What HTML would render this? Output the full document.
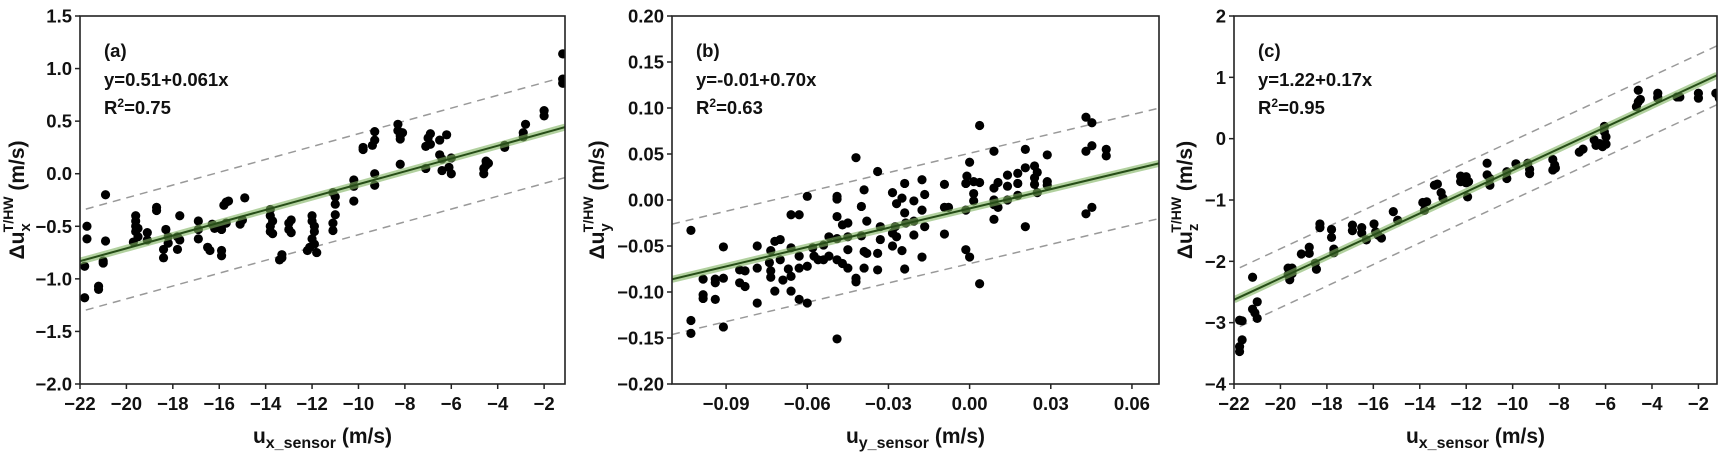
<!DOCTYPE html>
<html><head><meta charset="utf-8">
<style>
html,body{margin:0;padding:0;background:#fff;overflow:hidden;}
svg{display:block;font-family:"Liberation Sans",Arial,sans-serif;font-weight:bold;}
</style></head>
<body>
<svg id="fig" width="1724" height="458" viewBox="0 0 1724 458" xmlns="http://www.w3.org/2000/svg"></svg>
<script>
// ---------- Panel (a) data ----------
const aX = [-21.8,-21.8,-21.7,-21.7,-21.2,-21.2,-21,-21,-20.9,-20.9,-19.7,-19.6,-19.6,-19.6,-19.6,-19.5,-19.5,-19.1,-19.1,-18.7,-18.7,-18.4,-18.4,-18.3,-18.2,-18.2,-17.8,-17.8,-17.7,-17.7,-16.9,-16.9,-16.9,-16.5,-16.4,-16.3,-16.2,-16,-15.9,-15.9,-15.9,-15.8,-15.7,-15.6,-15.7,-15.1,-15,-14.9,-13.8,-13.8,-13.7,-13.8,-13.8,-13.7,-13.4,-13.3,-13.3,-13,-13,-12.9,-12.9,-12.2,-12.1,-12,-12,-12,-11.9,-11.9,-11.9,-11.8,-11.1,-11.1,-11.1,-11,-11,-11,-10.2,-10.2,-10.2,-9.8,-9.8,-9.4,-9.3,-9.3,-9.3,-9.3,-8.3,-8.3,-8.2,-8.2,-8.1,-8.2,-7.1,-7.1,-7,-6.9,-6.9,-6.5,-6.4,-6.4,-6.5,-6.2,-6.1,-6,-6,-4.6,-4.6,-4.5,-4.5,-4.4,-3.7,-3.7,-2.9,-2.9,-2.8,-2,-2,-1.2,-1.2,-1.2];
const aY = [-0.88,-1.18,-0.5,-0.62,-1.07,-1.1,-0.83,-0.85,-0.2,-0.64,-0.65,-0.4,-0.45,-0.5,-0.55,-0.52,-0.6,-0.56,-0.63,-0.32,-0.35,-0.72,-0.8,-0.53,-0.6,-0.66,-0.6,-0.72,-0.4,-0.63,-0.45,-0.53,-0.62,-0.7,-0.73,-0.48,-0.52,-0.5,-0.53,-0.73,-0.78,-0.3,-0.27,-0.26,-0.47,-0.48,-0.44,-0.23,-0.34,-0.4,-0.45,-0.5,-0.55,-0.57,-0.82,-0.77,-0.8,-0.47,-0.53,-0.56,-0.44,-0.73,-0.7,-0.4,-0.45,-0.62,-0.67,-0.5,-0.55,-0.75,-0.18,-0.47,-0.54,-0.22,-0.29,-0.39,-0.06,-0.12,-0.26,0.23,0.25,0.27,0.32,0.4,0,-0.11,0.47,0.41,0.36,0.33,0.39,0.09,0.26,0.05,0.34,0.38,0.28,0.18,0.14,0.03,0.32,0.37,0.06,0.15,0,0,0.05,0.12,0.08,0.1,0.27,0.25,0.35,0.39,0.47,0.55,0.6,1.14,0.86,0.9];
const aFit = [0.51, 0.061, 0.48]; // intercept, slope, band half-width
const aXTicks = [-22,-20,-18,-16,-14,-12,-10,-8,-6,-4,-2];
const aYTicks = [1.5,1.0,0.5,0.0,-0.5,-1.0,-1.5,-2.0];
const aYTickLabels = ["1.5","1.0","0.5","0.0","−0.5","−1.0","−1.5","−2.0"];

// ---------- Panel (b) data ----------
const bX = [-0.103,-0.103,-0.103,-0.0985,-0.0985,-0.0985,-0.094,-0.094,-0.094,-0.091,-0.091,-0.091,-0.085,-0.085,-0.083,-0.083,-0.0785,-0.0785,-0.0785,-0.074,-0.0735,-0.0735,-0.0735,-0.072,-0.072,-0.07,-0.07,-0.069,-0.067,-0.066,-0.066,-0.066,-0.066,-0.063,-0.063,-0.063,-0.063,-0.06,-0.06,-0.06,-0.058,-0.0575,-0.056,-0.054,-0.054,-0.052,-0.052,-0.049,-0.049,-0.049,-0.049,-0.049,-0.049,-0.047,-0.047,-0.045,-0.045,-0.045,-0.045,-0.042,-0.042,-0.042,-0.04,-0.04,-0.039,-0.039,-0.038,-0.038,-0.039,-0.034,-0.034,-0.034,-0.033,-0.033,-0.0285,-0.0285,-0.0285,-0.0275,-0.027,-0.027,-0.025,-0.025,-0.024,-0.024,-0.024,-0.0236,-0.0206,-0.0206,-0.0206,-0.0176,-0.0176,-0.0176,-0.0166,-0.0166,-0.0093,-0.0093,-0.0093,-0.0078,-0.0014,-0.0014,-0.0014,-0.001,0,0,0.0015,0.0015,0.0015,0.0037,0.0037,0.0037,0.009,0.009,0.009,0.009,0.009,0.0105,0.0105,0.014,0.014,0.014,0.0178,0.0178,0.0178,0.0206,0.0206,0.0206,0.024,0.024,0.024,0.025,0.025,0.0287,0.0287,0.0287,0.043,0.043,0.043,0.0452,0.0452,0.0452,0.0505,0.0505];
const bY = [-0.033,-0.131,-0.145,-0.086,-0.103,-0.107,-0.086,-0.09,-0.108,-0.085,-0.051,-0.138,-0.076,-0.09,-0.094,-0.077,-0.05,-0.074,-0.112,-0.068,-0.055,-0.077,-0.084,-0.045,-0.099,-0.043,-0.065,-0.087,-0.075,-0.016,-0.052,-0.083,-0.099,-0.016,-0.061,-0.074,-0.108,0.004,-0.112,-0.072,-0.052,-0.061,-0.065,-0.049,-0.065,-0.04,-0.061,-0.018,0.001,0.004,-0.042,-0.065,-0.151,-0.027,-0.069,-0.04,-0.054,-0.025,-0.074,0.046,-0.085,-0.089,-0.039,-0.007,0.011,-0.056,-0.058,-0.023,-0.074,0.031,-0.058,-0.076,-0.029,-0.043,0.008,-0.036,-0.05,-0.029,-0.004,-0.04,0.002,-0.055,0.018,-0.014,-0.075,-0.025,-0.001,-0.038,-0.023,0.022,-0.011,-0.062,0.006,-0.029,0.017,-0.008,-0.037,-0.008,0.018,-0.011,-0.054,0.026,0.041,-0.062,0.007,-0.001,0.02,0.081,0.019,-0.091,0.053,0.013,0,-0.005,-0.021,0.019,-0.008,0.027,0.015,0,0.029,0.018,0.005,0.055,0.035,-0.029,0.037,0.024,0.017,0.03,0.008,0.049,0.02,0.016,0.09,0.053,-0.015,0.084,0.059,-0.008,0.055,0.048];
const bFit = [-0.0092, 0.70, 0.06];
const bXTicks = [-0.09,-0.06,-0.03,0.00,0.03,0.06];
const bXTickLabels = ["−0.09","−0.06","−0.03","0.00","0.03","0.06"];
const bYTicks = [0.20,0.15,0.10,0.05,0.00,-0.05,-0.10,-0.15,-0.20];
const bYTickLabels = ["0.20","0.15","0.10","0.05","0.00","−0.05","−0.10","−0.15","−0.20"];

// ---------- Panel (c) data ----------
const cX = [-21.76,-21.76,-21.76,-21.65,-21.65,-21.2,-21.2,-21.1,-21,-21,-19.67,-19.67,-19.6,-19.5,-19.5,-19.1,-18.76,-18.76,-18.5,-18.45,-18.3,-18.3,-17.8,-17.8,-17.7,-17.7,-16.9,-16.9,-16.5,-16.5,-16.3,-15.97,-15.9,-15.8,-15.65,-15.14,-14.95,-13.87,-13.8,-13.7,-13.37,-13.24,-13.08,-13,-12.24,-12.24,-12,-12,-11.94,-11.9,-11.1,-11.1,-10.98,-10.98,-10.25,-10.25,-9.86,-9.35,-9.27,-9.27,-8.27,-8.19,-8.16,-8.27,-7.13,-6.97,-6.49,-6.41,-6.25,-6.13,-6.05,-6.05,-5.98,-5.98,-4.59,-4.67,-4.59,-4.5,-3.75,-3.75,-3.75,-2.92,-2.8,-2,-2,-1.25,-1.1];
const cY = [-2.96,-3.39,-3.47,-3.28,-2.97,-2.26,-2.78,-2.84,-2.66,-2.93,-2.11,-2.22,-2.3,-2.11,-2.2,-1.88,-1.77,-1.87,-2.03,-2.13,-1.39,-1.45,-1.48,-1.61,-1.8,-1.86,-1.41,-1.5,-1.45,-1.54,-1.65,-1.39,-1.52,-1.57,-1.62,-1.19,-1.33,-1.04,-1.17,-1.03,-0.76,-0.74,-0.88,-0.97,-0.61,-0.7,-0.62,-0.72,-0.95,-0.7,-0.4,-0.59,-0.76,-0.65,-0.54,-0.65,-0.41,-0.4,-0.5,-0.57,-0.34,-0.43,-0.48,-0.51,-0.22,-0.17,-0.02,-0.11,-0.08,-0.13,0.2,0.11,0.03,-0.09,0.79,0.52,0.6,0.64,0.74,0.66,0.68,0.68,0.68,0.74,0.66,0.74,0.66];
const cFit = [1.245, 0.176, 0.48];
const cXTicks = [-22,-20,-18,-16,-14,-12,-10,-8,-6,-4,-2];
const cYTicks = [2,1,0,-1,-2,-3,-4];
const cYTickLabels = ["2","1","0","−1","−2","−3","−4"];

const NS = "http://www.w3.org/2000/svg";
const fig = document.getElementById('fig');
function mk(tag, attrs, parent){
  const e = document.createElementNS(NS, tag);
  for (const k in attrs) e.setAttribute(k, attrs[k]);
  (parent||fig).appendChild(e);
  return e;
}
function neg(v){ return String(v).replace('-', '−'); }

function panel(cfg){
  const g = mk('g', {});
  
  
  const L=cfg.box[0], R=cfg.box[1], T=16, B=384;
  const sx = v => L + (v - cfg.xlim[0]) / (cfg.xlim[1]-cfg.xlim[0]) * (R-L);
  const sy = v => B - (v - cfg.ylim[0]) / (cfg.ylim[1]-cfg.ylim[0]) * (B-T);
  const clip = 'clip-'+cfg.name;
  const cp = mk('clipPath', {id: clip}, g);
  mk('rect', {x:L, y:T, width:R-L, height:B-T}, cp);
  const plot = mk('g', {'clip-path':'url(#'+clip+')'}, g);

  const [a, b, hw] = cfg.fit;
  const x0 = cfg.dashStart, x1 = cfg.xlim[1];
  [hw, -hw].forEach((off, i) => {
    const l = mk('line', {x1:sx(x0), y1:sy(a+b*x0+off), x2:sx(x1), y2:sy(a+b*x1+off), stroke:'#999', 'stroke-width':1.5, 'stroke-dasharray':'8,6'}, plot);
    
    
  });
  const pts = mk('g', {}, plot);
  
  
  cfg.xs.forEach((x, i) => {
    const c = mk('circle', {cx:sx(x), cy:sy(cfg.ys[i]), r:4.6, fill:'#000'}, pts);
    
    
  });
  const fx0 = cfg.xlim[0];
  const band = mk('line', {x1:sx(fx0), y1:sy(a+b*fx0), x2:sx(x1), y2:sy(a+b*x1), stroke:'#7fb35f', 'stroke-opacity':0.6, 'stroke-width':7}, plot);
  
  
  const fl = mk('line', {x1:sx(fx0), y1:sy(a+b*fx0), x2:sx(x1), y2:sy(a+b*x1), stroke:'#264d17', 'stroke-width':2}, plot);
  
  

  const fr = mk('rect', {x:L, y:T, width:R-L, height:B-T, fill:'none', stroke:'#222', 'stroke-width':1.6}, g);
  
  
  cfg.xticks.forEach((t, i) => {
    mk('line', {x1:sx(t), y1:B, x2:sx(t), y2:B+5, stroke:'#222', 'stroke-width':1.5}, g);
    const tx = mk('text', {x:sx(t), y:B+26, 'text-anchor':'middle', 'font-size':18.5, fill:'#111'}, g);
    tx.textContent = cfg.xtl ? cfg.xtl[i] : neg(t);
    
    
  });
  cfg.yticks.forEach((t, i) => {
    mk('line', {x1:L-5, y1:sy(t), x2:L, y2:sy(t), stroke:'#222', 'stroke-width':1.5}, g);
    const tx = mk('text', {x:L-8, y:sy(t)+6.5, 'text-anchor':'end', 'font-size':18.5, fill:'#111'}, g);
    tx.textContent = cfg.ytl[i];
    
    
  });
  const an = mk('g', {'font-size':18.5, fill:'#111'}, g);
  
  
  const ax = L + 24;
  mk('text', {x:ax, y:57}, an).textContent = cfg.tag;
  mk('text', {x:ax, y:86}, an).textContent = cfg.eq;
  const r2 = mk('text', {x:ax, y:114}, an);
  r2.innerHTML = 'R<tspan dy="-7" font-size="12">2</tspan><tspan dy="7">=' + cfg.r2 + '</tspan>';
  const xt = mk('text', {x:(L+R)/2, y:B+59, 'text-anchor':'middle', 'font-size':21, fill:'#111'}, g);
  xt.innerHTML = 'u<tspan dy="5" font-size="16">' + cfg.xsub + '</tspan><tspan dy="-5"> (m/s)</tspan>';
  
  
  const yt = mk('text', {x:0, y:0, 'text-anchor':'middle', 'font-size':21, fill:'#111', transform:'translate('+(cfg.ytx)+',200) rotate(-90)'}, g);
  yt.innerHTML = 'Δu<tspan dy="6" font-size="15">' + cfg.ysub + '</tspan><tspan dx="-9" dy="-17" font-size="14">T/HW</tspan><tspan dy="11"> (m/s)</tspan>';
  
  
}

panel({name:'panel-a', box:[80,565], xlim:[-22,-1.1], ylim:[-2,1.5], xs:aX, ys:aY, fit:aFit, dashStart:-21.75,
  xticks:aXTicks, yticks:aYTicks, ytl:aYTickLabels, tag:'(a)', eq:'y=0.51+0.061x', r2:'0.75', xsub:'x_sensor', ysub:'x', ytx:24});
panel({name:'panel-b', box:[672,1159], xlim:[-0.11,0.07], ylim:[-0.2,0.2], xs:bX, ys:bY, fit:bFit, dashStart:-0.11,
  xticks:bXTicks, xtl:bXTickLabels, yticks:bYTicks, ytl:bYTickLabels, tag:'(b)', eq:'y=-0.01+0.70x', r2:'0.63', xsub:'y_sensor', ysub:'y', ytx:604});
panel({name:'panel-c', box:[1234,1717], xlim:[-22,-1.2], ylim:[-4,2], xs:cX, ys:cY, fit:cFit, dashStart:-21.75,
  xticks:cXTicks, yticks:cYTicks, ytl:cYTickLabels, tag:'(c)', eq:'y=1.22+0.17x', r2:'0.95', xsub:'x_sensor', ysub:'z', ytx:1192});
</script>
</body></html>
